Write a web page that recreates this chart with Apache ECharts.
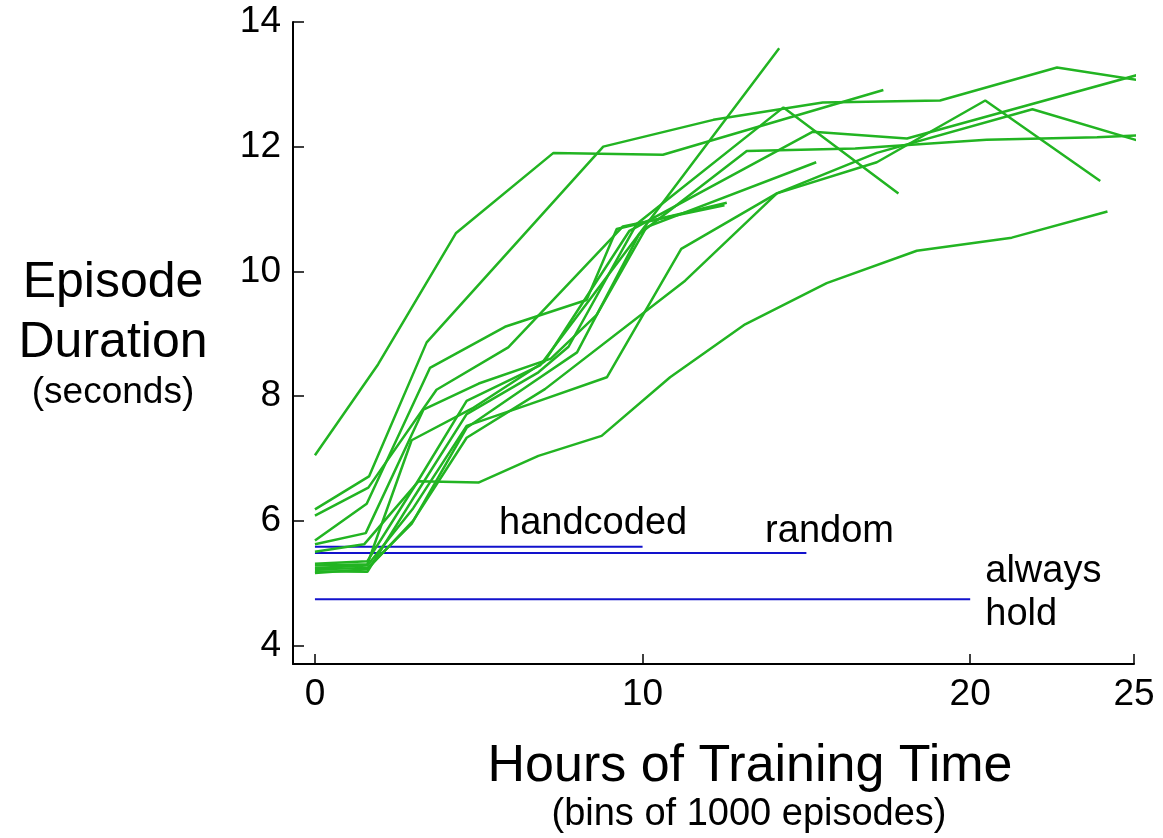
<!DOCTYPE html>
<html>
<head>
<meta charset="utf-8">
<script src="https://cdn.jsdelivr.net/npm/echarts@6/dist/echarts.min.js"></script>
<style>
html,body{margin:0;padding:0;background:#fff;}
#chart{width:1163px;height:838px;}
</style>
</head>
<body>
<div id="chart"></div>
<script>
// ---- data (hours of training, episode duration in seconds) ----
const runA = [[0,7.05],[1.93,8.51],[4.30,10.61],[7.28,11.90],[10.62,11.87],[17.35,12.91]];
const runB = [[0,6.18],[1.65,6.71],[3.41,8.86],[8.80,12.00],[12.16,12.43],[15.5,12.71],[19.08,12.74],[22.65,13.27],[25.1,13.07]];
const runC = [[0,5.28],[1.6,5.30],[2.95,7.29],[4.8,7.8],[7.0,8.55],[9.6,10.65],[15.2,12.24],[18.07,12.13],[25.1,13.15]];
const runD = [[0,5.68],[1.58,6.27],[3.51,8.45],[5.80,9.11],[8.29,9.54],[9.21,10.68],[12.57,11.10]];
const runE = [[0,6.08],[1.63,6.53],[3.71,8.10],[5.90,8.78],[9.4,10.72],[12.5,11.06]];
const runF = [[0,5.22],[1.6,5.24],[2.95,5.95],[4.63,7.49],[6.6,8.2],[8.0,8.7],[9.9,10.6],[13.18,11.93],[16.49,11.97],[20.5,12.11],[23.87,12.15],[25.1,12.18]];
const runG = [[0,5.16],[1.6,5.22],[3.0,6.0],[4.63,7.33],[7.02,8.11],[11.3,9.85],[14.1,11.25],[17.15,11.9],[21.9,12.6],[25.1,12.10]];
const runH = [[0,5.24],[1.6,5.28],[3.0,6.2],[4.63,7.52],[6.56,7.87],[8.91,8.30],[11.18,10.36],[14.1,11.25],[17.15,11.75],[20.46,12.74],[23.97,11.45]];
const runI = [[0,5.19],[1.6,5.18],[3.05,6.4],[4.63,7.71],[6.82,8.38],[7.74,8.79],[9.82,10.76],[14.3,12.63],[17.81,11.25]];
const runJ = [[0,5.62],[1.55,5.80],[3.31,7.78],[5.0,8.2],[7.2,8.6],[8.6,9.3],[10.12,10.71],[15.3,11.75]];
const runK = [[0,5.31],[1.6,5.35],[3.1,6.6],[4.63,7.92],[6.87,8.49],[14.17,13.58]];
const runL = [[0,5.50],[1.5,5.62],[3.16,6.63],[4.99,6.61],[6.82,7.04],[8.75,7.36],[10.84,8.30],[13.13,9.15],[15.62,9.81],[18.37,10.33],[21.27,10.54],[24.19,10.96]];
const runs = [runA, runB, runC, runD, runE, runF, runG, runH, runI, runJ, runK, runL];

const baselineNames = ['handcoded', 'random', 'always hold'];
const baselineValues = [5.58, 5.48, 4.74];
const baselineEnds = [10, 15, 20];

const xTicks = [0, 10, 20, 25];
const yTicks = [4, 6, 8, 10, 12, 14];

// ---- chart ----
const FONT = '"Liberation Sans", Arial, Helvetica, sans-serif';
const chart = echarts.init(document.getElementById('chart'), null, {renderer: 'canvas'});

const series = runs.map((r, i) => ({
  type: 'line', name: 'run' + (i + 1), data: r, symbol: 'none',
  lineStyle: {color: '#22b422', width: 2.5}, silent: true, z: 3
}));
baselineValues.forEach((v, i) => {
  series.push({
    type: 'line', name: baselineNames[i], data: [[0, v], [baselineEnds[i], v]],
    symbol: 'none', lineStyle: {color: '#1212cc', width: 2}, silent: true, z: 2
  });
});

chart.setOption({
  animation: false,
  backgroundColor: '#ffffff',
  grid: {left: 293, right: 29, top: 22, bottom: 174, containLabel: false},
  xAxis: {
    type: 'value', min: -0.67, max: 25,
    axisLine: {show: true, onZero: false, lineStyle: {color: '#000', width: 2}},
    axisTick: {show: true, inside: true, length: 10, customValues: xTicks, lineStyle: {color: '#000', width: 1.5}},
    axisLabel: {customValues: xTicks, color: '#000', fontSize: 37, fontFamily: FONT, margin: 12},
    splitLine: {show: false}
  },
  yAxis: {
    type: 'value', min: 3.7, max: 14,
    axisLine: {show: true, onZero: false, lineStyle: {color: '#000', width: 2}},
    axisTick: {show: true, inside: true, length: 11, customValues: yTicks, lineStyle: {color: '#000', width: 1.5}},
    axisLabel: {customValues: yTicks, color: '#000', fontSize: 37, fontFamily: FONT, margin: 12},
    splitLine: {show: false}
  },
  series: series
});

function px(x, y) { return chart.convertToPixel({gridIndex: 0}, [x, y]); }
const pH = px(5.62, 5.96), pR = px(13.74, 5.83), pA1 = px(20.46, 5.19), pA2 = px(20.46, 4.50);
const txt = (x, y, s, size, align) => ({
  type: 'text', x: x, y: y,
  style: {text: s, font: size + 'px ' + FONT, fill: '#000', textAlign: align || 'left', textVerticalAlign: 'middle'}
});
chart.setOption({
  graphic: [
    txt(113, 283, 'Episode', 50, 'center'),
    txt(113, 343, 'Duration', 50, 'center'),
    txt(113, 393, '(seconds)', 37, 'center'),
    txt(750, 767, 'Hours of Training Time', 52, 'center'),
    txt(749, 815, '(bins of 1000 episodes)', 38, 'center'),
    txt(pH[0], pH[1], 'handcoded', 38),
    txt(pR[0], pR[1], 'random', 38),
    txt(pA1[0], pA1[1], 'always', 38),
    txt(pA2[0], pA2[1], 'hold', 38)
  ]
});
</script>
</body>
</html>
